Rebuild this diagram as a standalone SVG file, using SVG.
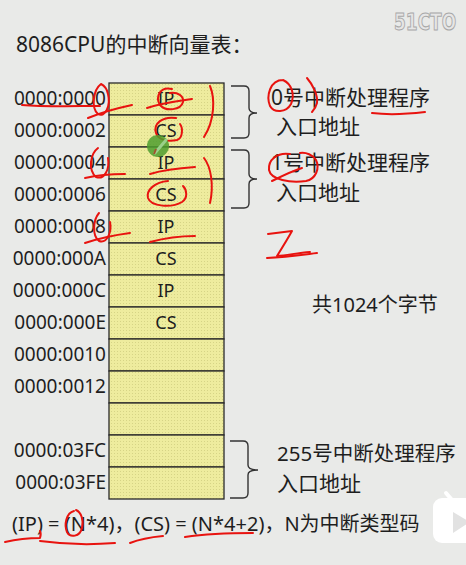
<svg xmlns="http://www.w3.org/2000/svg" width="466" height="565" viewBox="0 0 466 565">
<defs>
<pattern id="dots" width="3" height="3" patternUnits="userSpaceOnUse">
<rect width="3" height="3" fill="#EEEC9E"/>
<rect x="0" y="0" width="1" height="1" fill="#D6D486"/>
</pattern>
<style>
text{font-family:"Noto Sans","Noto Sans CJK SC",sans-serif;fill:#1E1E1E;}
.addr{font-size:19px;text-anchor:end;}
.cell{font-size:18px;text-anchor:middle;}
.rt{font-size:21px;}
.row{fill:url(#dots);stroke:#2A2A2A;stroke-width:1.3;}
.brace{fill:none;stroke:#333;stroke-width:1.4;}
.red{fill:none;stroke:#E8130F;stroke-width:2;stroke-linecap:round;stroke-linejoin:round;}
</style>
</defs>
<rect width="466" height="565" fill="#E9EAE8"/>
<text x="16" y="52" style="font-size:21px">8086CPU的中断向量表：</text>
<text x="0" y="0" transform="translate(394,30) scale(1,1.35)" style="font-family:'DejaVu Sans',sans-serif;font-weight:bold;font-size:17px;fill:#E6E6E6;stroke:#A8A8A8;stroke-width:0.8">51CTO</text>

<g id="table">
<rect class="row" x="109" y="83" width="115" height="32"/>
<rect class="row" x="109" y="115" width="115" height="32"/>
<rect class="row" x="109" y="147" width="115" height="32"/>
<rect class="row" x="109" y="179" width="115" height="32"/>
<rect class="row" x="109" y="211" width="115" height="32"/>
<rect class="row" x="109" y="243" width="115" height="32"/>
<rect class="row" x="109" y="275" width="115" height="32"/>
<rect class="row" x="109" y="307" width="115" height="32"/>
<rect class="row" x="109" y="339" width="115" height="32"/>
<rect class="row" x="109" y="371" width="115" height="32"/>
<rect class="row" x="109" y="403" width="115" height="32"/>
<rect class="row" x="109" y="435" width="115" height="32"/>
<rect class="row" x="109" y="467" width="115" height="32"/>
<text class="cell" x="166" y="105">IP</text>
<text class="cell" x="166" y="137">CS</text>
<text class="cell" x="166" y="169">IP</text>
<text class="cell" x="166" y="201">CS</text>
<text class="cell" x="166" y="233">IP</text>
<text class="cell" x="166" y="265">CS</text>
<text class="cell" x="166" y="297">IP</text>
<text class="cell" x="166" y="329">CS</text>
</g>

<g id="addresses">
<text class="addr" x="106" y="105">0000:0000</text>
<text class="addr" x="106" y="137">0000:0002</text>
<text class="addr" x="106" y="169">0000:0004</text>
<text class="addr" x="106" y="201">0000:0006</text>
<text class="addr" x="106" y="233">0000:0008</text>
<text class="addr" x="106" y="265">0000:000A</text>
<text class="addr" x="106" y="297">0000:000C</text>
<text class="addr" x="106" y="329">0000:000E</text>
<text class="addr" x="106" y="361">0000:0010</text>
<text class="addr" x="106" y="393">0000:0012</text>
<text class="addr" x="106" y="457">0000:03FC</text>
<text class="addr" x="106" y="489">0000:03FE</text>
</g>

<g id="braces">
<path class="brace" d="M231,86 H244 Q249,86 249,91 V108 Q249,113 257,113 Q249,113 249,118 V133 Q249,138 244,138 H231"/>
<path class="brace" d="M231,150 H244 Q249,150 249,155 V174 Q249,179 257,179 Q249,179 249,184 V203 Q249,208 244,208 H231"/>
<path class="brace" d="M230,441 H243 Q248,441 248,446 V465 Q248,470 258,470 Q248,470 248,475 V493 Q248,498 243,498 H230"/>
</g>

<g id="labels">
<text class="rt" x="271" y="105">0号中断处理程序</text>
<text class="rt" x="276" y="134">入口地址</text>
<text class="rt" x="271" y="170">1号中断处理程序</text>
<text class="rt" x="276" y="200">入口地址</text>
<text x="312" y="312" style="font-size:20px">共1024个字节</text>
<text x="277" y="461" style="font-size:20.5px">255号中断处理程序</text>
<text class="rt" x="277" y="491">入口地址</text>
<text x="12" y="531" style="font-size:20px">(IP) = (N*4)，(CS) = (N*4+2)，N为中断类型码</text>
</g>

<g id="annotations">
<path class="red" d="M101,84 C93,90 91,108 98,114 C105,118 111,106 108,94 C107,89 105,86 101,84"/>
<path class="red" d="M22,105 C45,107 75,106 100,106"/>
<path class="red" d="M88,118 C100,113 118,108 132,105"/>
<path class="red" d="M172,89 C160,86 155,97 160,105 C166,112 181,110 183,102 C184,96 178,92 170,93"/>
<path class="red" d="M147,108 C162,103 178,101 192,99"/>
<path class="red" d="M210,86 C215,98 215,120 204,137"/>
<path class="red" d="M176,118 C162,116 153,124 156,133 C158,140 168,142 177,140 C183,138 183,128 180,124"/>
<path class="red" d="M98,148 C90,154 88,170 96,177 C104,180 110,170 108,158"/>
<path class="red" d="M85,178 C98,175 112,174 125,174"/>
<path class="red" d="M150,174 C163,170 180,168 195,167"/>
<path class="red" d="M204,158 C211,167 214,185 210,203"/>
<path class="red" d="M168,181 C155,182 146,190 148,198 C151,207 172,208 182,202 C188,198 187,190 183,186"/>
<path class="red" d="M99,213 C93,220 92,236 99,241 C107,244 112,232 110,222"/>
<path class="red" d="M85,243 C100,238 115,235 130,233"/>
<path class="red" d="M150,242 C165,238 180,236 195,236"/>
<path class="red" d="M283,80 C270,80 266,96 270,106 C274,113 286,113 291,104 C295,95 292,84 283,80"/>
<path class="red" d="M307,78 C313,85 318,95 317,103 C316,107 314,110 312,112"/>
<path class="red" d="M372,113 C388,115 408,114 425,112"/>
<path class="red" d="M290,154 C277,152 268,160 269,170 C271,180 290,183 306,181 C316,179 320,168 316,160 C313,155 306,152 300,153"/>
<path class="red" d="M272,181 C282,176 292,171 302,168"/>
<path class="red" d="M268,234 C276,233 284,232 292,231 C287,240 282,248 277,256 C288,255 298,253 310,252"/>
<path class="red" d="M267,258 C285,257 300,255 317,253"/>
<path class="red" d="M5,542 C18,539 30,538 40,538 C41,535 41,533 40,531"/>
<path class="red" d="M40,541 C62,544 90,545 115,543"/>
<path class="red" d="M74,511 C66,513 64,525 67,532 C70,538 80,537 82,528 C84,520 81,512 76,510"/>
<path class="red" d="M130,543 C140,539 152,537 163,536"/>
<path class="red" d="M185,537 C205,534 230,533 253,533"/>
</g>

<g id="cursor">
<circle cx="158" cy="146" r="11" fill="#4E9E2E" opacity="0.85"/>
<path d="M155,153 L166,140" stroke="#9AD08A" stroke-width="3" stroke-linecap="round"/>
<path d="M154,154 L156,149" stroke="#A0522D" stroke-width="2"/>
</g>

<g id="play">
<path d="M446,493 L452,500" stroke="#FFFFFF" stroke-width="4" stroke-linecap="round"/>
<rect x="433" y="498" width="50" height="45" rx="9" fill="#FFFFFF"/>
<path d="M453,512 L470,522 L453,533 Z" fill="#E2E2E2"/>
</g>
</svg>
